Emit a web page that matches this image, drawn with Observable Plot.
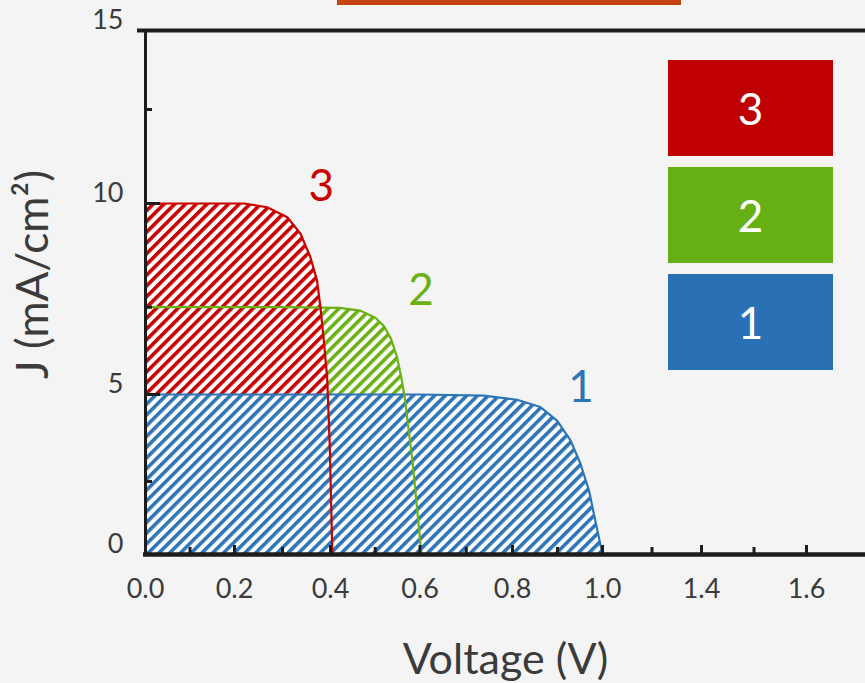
<!DOCTYPE html>
<html><head><meta charset="utf-8">
<script src="https://cdn.jsdelivr.net/npm/d3@7"></script>
<script src="https://cdn.jsdelivr.net/npm/@observablehq/plot@0.6"></script>
<style>
html,body{margin:0;padding:0;background:#f4f4f4;}
#wrap{position:relative;width:865px;height:683px;overflow:hidden;font-family:Lato,sans-serif;}
#bar{position:absolute;left:337px;top:0;width:344px;height:5px;background:#c4440f;}
.leg{position:absolute;left:668px;width:165px;height:96px;color:#fff;font-size:44px;display:flex;align-items:center;justify-content:center;line-height:1;}
</style></head><body><div id="wrap"><div id="bar"></div></div>
<script>
// ---- data ----
const seriesNames = ["1", "2", "3"];
const lineColors = ["#2e75b6", "#6ab114", "#c80000"];
const legendColors = ["#2970b4", "#67b014", "#c00000"];

// curve 1 (blue)
const v1 = [0, 0.6, 0.738, 0.81, 0.862, 0.899, 0.929, 0.951, 0.97, 0.984, 1.0];
const j1 = [5, 5, 4.97, 4.85, 4.64, 4.25, 3.68, 3.01, 2.19, 1.16, 0];
// curve 2 (green)
const v2 = [0, 0.3, 0.42, 0.467, 0.5, 0.52, 0.535, 0.548, 0.558, 0.566, 0.574, 0.583, 0.594, 0.603];
const j2 = [7.5, 7.5, 7.48, 7.4, 7.2, 6.95, 6.6, 6.1, 5.5, 4.9, 4.05, 3.1, 1.5, 0];
// curve 3 (red)
const v3 = [0, 0.22, 0.268, 0.31, 0.3375, 0.358, 0.372, 0.379, 0.386, 0.393, 0.3985, 0.4038, 0.405];
const j3 = [10, 10, 9.91, 9.67, 9.27, 8.71, 8.14, 7.5, 6.55, 5.5, 3.49, 0.25, 0];

// curve label anchors (V, J)
const labelV = [0.952, 0.602, 0.381];
const labelJ = [5.19, 7.9, 10.43];

// axes
const xMajorTicks = [0, 0.2, 0.4, 0.6, 0.8, 1.0, 1.4, 1.6];
const xMinorTicks = [0.1, 0.3, 0.5, 0.7, 0.9, 1.2, 1.5];
const yMajorTicks = [0, 5, 10, 15];
const yMinorTicks = [2.5, 7.5, 12.5];
const xTitle = "Voltage (V)";
const yTitle = "J (mA/cm²)";

// ---- build ----
const V = [v1, v2, v3], J = [j1, j2, j3];
const curves = seriesNames.map((name, i) => ({
  name, color: lineColors[i],
  points: V[i].map((v, k) => ({V: v, J: J[i][k]}))
}));
const labels = seriesNames.map((name, i) => ({name, V: labelV[i], J: labelJ[i], color: lineColors[i]}));

const ink = "#1c1c1c";
const txt = "#3b3b3b";
const marks = [];
for (const i of [1, 2, 0]) marks.push(Plot.areaY(curves[i].points, {x: "V", y: "J", fill: `url(#hatch-${i})`}));
for (const i of [0, 1, 2]) marks.push(Plot.line(curves[i].points, {x: "V", y: "J", stroke: curves[i].color, strokeWidth: 2.2}));
marks.push(
  // axis lines
  Plot.ruleX([0], {y1: 0, y2: 15, stroke: ink, strokeWidth: 3}),
  Plot.ruleY([0], {x1: 0, x2: 1.8, insetLeft: -2, stroke: ink, strokeWidth: 4.5}),
  Plot.ruleY([15], {x1: 0, x2: 1.8, insetLeft: -8, stroke: ink, strokeWidth: 4}),
  // ticks (inward)
  Plot.ruleX(xMajorTicks, {x: d => d, y1: 0, y2: 0, insetTop: -9, stroke: ink, strokeWidth: 3}),
  Plot.ruleX(xMinorTicks, {x: d => d, y1: 0, y2: 0, insetTop: -7, stroke: ink, strokeWidth: 3}),
  Plot.ruleY(yMajorTicks, {y: d => d, x1: 0, x2: 0, insetRight: -15, stroke: ink, strokeWidth: 3}),
  Plot.ruleY(yMinorTicks, {y: d => d, x1: 0, x2: 0, insetRight: -7, stroke: ink, strokeWidth: 3}),
  // tick labels
  Plot.text(xMajorTicks, {x: d => d, y: 0, text: d => d3.format(".1f")(d), dy: 35, fontSize: 27, fill: txt, lineAnchor: "middle"}),
  Plot.text(yMajorTicks, {x: 0, y: d => d, text: d => String(d), dx: -22, dy: -10, fontSize: 27, fill: txt, textAnchor: "end", lineAnchor: "middle"}),
  // axis titles
  Plot.text([xTitle], {frameAnchor: "bottom", text: d => d, dy: 106, fontSize: 43, fill: txt, lineAnchor: "middle", textAnchor: "middle"}),
  Plot.text([yTitle], {frameAnchor: "left", text: d => d, dx: -112, dy: -18, rotate: -90, fontSize: 44, fill: txt, lineAnchor: "middle", textAnchor: "middle"}),
  // curve labels
  Plot.text(labels, {x: "V", y: "J", text: "name", fill: "color", fontSize: 44, lineAnchor: "middle"})
);

const svg = Plot.plot({
  width: 865, height: 683,
  marginLeft: 145, marginRight: 0, marginTop: 30, marginBottom: 129,
  style: {background: "#f4f4f4", fontFamily: "Lato, sans-serif", overflow: "visible"},
  x: {type: "linear", domain: [0, 0.2, 0.4, 0.6, 0.8, 1.0, 1.4, 1.6, 1.8], range: [145, 234, 330, 419.5, 512, 602, 701, 806, 911], axis: null},
  y: {type: "linear", domain: [0, 2.5, 5, 7.5, 10, 12.5, 15], range: [554, 481, 394, 306.7, 203, 109, 30], axis: null},
  marks
});

// hatch patterns
const defs = d3.select(svg).insert("defs", ":first-child");
lineColors.forEach((c, i) => {
  const p = defs.append("pattern").attr("id", `hatch-${i}`).attr("patternUnits", "userSpaceOnUse")
    .attr("width", 7.6).attr("height", 7.6).attr("patternTransform", "rotate(45)");
  p.append("rect").attr("width", 7.6).attr("height", 7.6).attr("fill", "#fff");
  p.append("rect").attr("width", 3.6).attr("height", 7.6).attr("fill", c);
});

const wrap = document.getElementById("wrap");
wrap.insertBefore(svg, wrap.firstChild);

// legend (top to bottom: 3, 2, 1)
const legendTop = [60, 167, 274];
[2, 1, 0].forEach((i, k) => {
  const d = document.createElement("div");
  d.className = "leg";
  d.style.top = legendTop[k] + "px";
  d.style.background = legendColors[i];
  d.textContent = seriesNames[i];
  wrap.appendChild(d);
});
</script>
</body></html>
